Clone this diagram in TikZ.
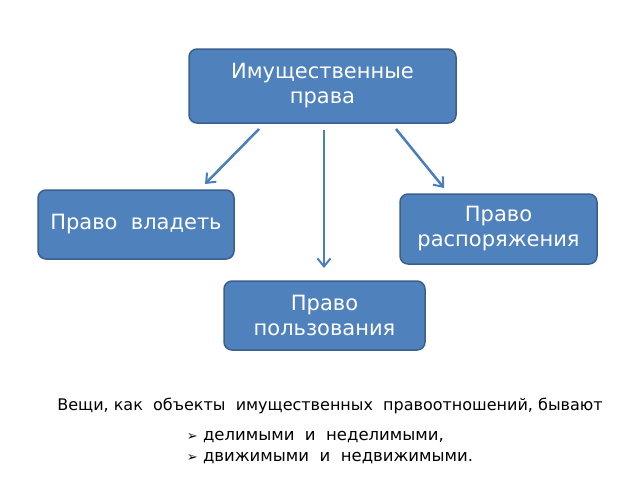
\documentclass[tikz,border=0pt]{standalone}
\usepackage{fontspec}
\setmainfont{DejaVu Sans}
\usetikzlibrary{arrows.meta}
\definecolor{boxfill}{HTML}{4F81BD}
\definecolor{boxline}{HTML}{3A5F8C}
\definecolor{arr}{HTML}{4A7EBB}
\begin{document}
\begin{tikzpicture}[x=1pt,y=-1pt,
  box/.style={draw=boxline,line width=1.5pt,fill=boxfill,rounded corners=8pt,text=white,font=\fontsize{21}{25}\selectfont,align=center,inner sep=0pt},
  arw/.style={draw=arr,line width=2.5pt,-{Straight Barb[length=8pt,width=13pt,line width=2pt]}}]
\useasboundingbox (0,0) rectangle (640,480);
\node[box,minimum width=267pt,minimum height=74pt] (top) at (322.5,86) {Имущественные\\права};
\node[box,minimum width=196pt,minimum height=69pt] (left) at (136,224.5) {Право\ \ владеть};
\node[box,minimum width=197pt,minimum height=70pt] (right) at (498.5,229) {Право\\распоряжения};
\node[box,minimum width=201pt,minimum height=69pt] (bot) at (324.5,315.5) {Право\\пользования};
\coordinate (a1) at (259,129); \coordinate (a2) at (205,184);
\coordinate (b1) at (324,130); \coordinate (b2) at (324,268);
\coordinate (c1) at (396,129); \coordinate (c2) at (444,188);
\draw[arw] (a1) -- (a2);
\draw[arw] (b1) -- (b2);
\draw[arw] (c1) -- (c2);
\node[font=\fontsize{16}{19}\selectfont] (t1) at (330,406) {Вещи, как\ \ объекты\ \ имущественных\ \ правоотношений, бывают};
\node[font=\fontsize{16.5}{21}\selectfont,align=left] (t2) at (330,448) {{\fontsize{13}{13}\selectfont ➢} делимыми\ \ и\ \ неделимыми,\\{\fontsize{13}{13}\selectfont ➢} движимыми\ \ и\ \ недвижимыми.};
\end{tikzpicture}
\end{document}
